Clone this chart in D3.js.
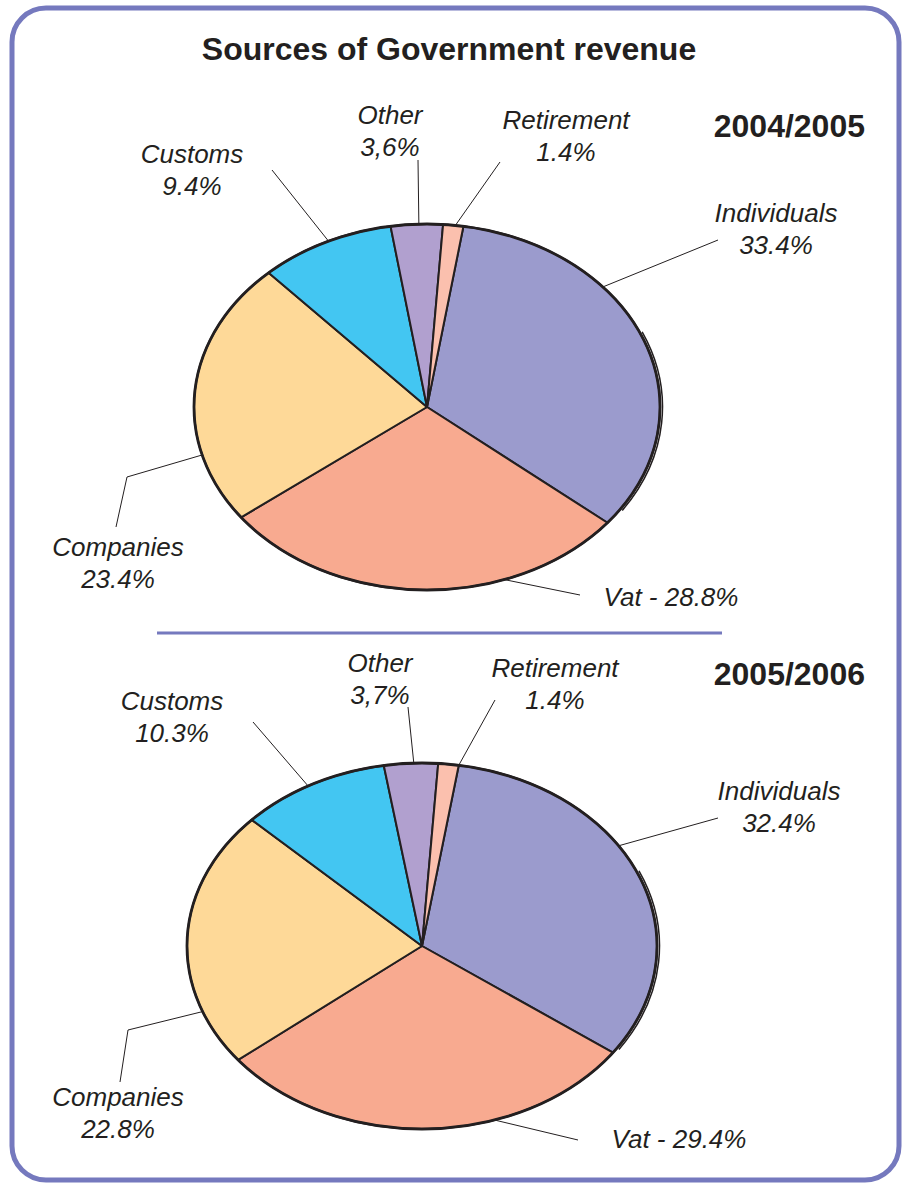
<!DOCTYPE html>
<html>
<head>
<meta charset="utf-8">
<script src="https://cdn.jsdelivr.net/npm/d3@7"></script>
<style>
  body { margin: 0; background: #fff; }
  svg { display: block; }
</style>
</head>
<body>
<svg id="chart"></svg>
<script>
// slice names, in drawing order (clockwise from the top)
var categories = ["Individuals", "Vat", "Companies", "Customs", "Other", "Retirement"];
var colors = ["#9b9bcd", "#f8aa90", "#fed998", "#43c6f2", "#b1a0cf", "#fbc0ae"];

// percentages per year
var values2004 = [33.4, 28.8, 23.4, 9.4, 3.6, 1.4];
var values2005 = [32.4, 29.4, 22.8, 10.3, 3.7, 1.4];

// label texts as printed
var labels2004 = [["Individuals", "33.4%"], ["Vat - 28.8%"], ["Companies", "23.4%"], ["Customs", "9.4%"], ["Other", "3,6%"], ["Retirement", "1.4%"]];
var labels2005 = [["Individuals", "32.4%"], ["Vat - 29.4%"], ["Companies", "22.8%"], ["Customs", "10.3%"], ["Other", "3,7%"], ["Retirement", "1.4%"]];

var years = ["2004/2005", "2005/2006"];
var title = "Sources of Government revenue";

var width = 906;
var height = 1183;
var ink = "#231f20";
var frameColor = "#7579be";

var svg = d3.select("#chart")
    .attr("width", width)
    .attr("height", height)
    .style("font-family", "'Liberation Sans', Arial, Helvetica, sans-serif");

// frame
svg.append("rect")
    .attr("x", 12).attr("y", 8)
    .attr("width", 887).attr("height", 1172)
    .attr("rx", 34).attr("ry", 34)
    .attr("fill", "none")
    .attr("stroke", frameColor)
    .attr("stroke-width", 5);

// separator
svg.append("line")
    .attr("x1", 157).attr("x2", 722)
    .attr("y1", 633).attr("y2", 633)
    .attr("stroke", frameColor)
    .attr("stroke-width", 3);

svg.append("text")
    .attr("x", 449).attr("y", 60)
    .attr("text-anchor", "middle")
    .style("font-weight", "bold")
    .style("font-size", "32px")
    .attr("fill", ink)
    .text(title);

// label layout: text position + anchor angle (deg) on the pie rim + optional elbow
var layout2004 = [
  {x: 776, y: 222, lx: 718, ly: 240, a: 49},
  {x: 671, y: 606, lx: 580, ly: 595, a: 160.6},
  {x: 118, y: 556, lx: 116, ly: 527, ex: 127, ey: 477, a: 254.8},
  {x: 192, y: 163, lx: 272, ly: 170, a: 335},
  {x: 390, y: 124, lx: 418, ly: 160, a: 358},
  {x: 566, y: 129, lx: 500, ly: 162, a: 7}
];
var layout2005 = [
  {x: 779, y: 800, lx: 718, ly: 818, a: 56.8},
  {x: 679, y: 1148, lx: 578, ly: 1140, a: 162},
  {x: 118, y: 1106, lx: 120, ly: 1082, ex: 128, ey: 1030, a: 249},
  {x: 172, y: 710, lx: 253, ly: 722, a: 331},
  {x: 380, y: 672, lx: 408, ly: 707, a: 358},
  {x: 555, y: 677, lx: 495, ly: 700, a: 9}
];

function drawPie(values, labels, layout, cx, cy, rx, ry, year, yearY) {
  var pie = d3.pie()
      .sort(null)
      .startAngle(9 * Math.PI / 180)
      .endAngle(9 * Math.PI / 180 + 2 * Math.PI);
  var arc = d3.arc().innerRadius(0).outerRadius(rx);
  var arcs = pie(values);

  var g = svg.append("g")
      .attr("transform", "translate(" + cx + "," + cy + ") scale(1," + (ry / rx) + ")");

  g.selectAll("path.slice")
    .data(arcs)
    .join("path")
      .attr("class", "slice")
      .attr("d", arc)
      .attr("fill", (d, i) => colors[i])
      .attr("stroke", ink)
      .attr("stroke-width", 2)
      .attr("stroke-linejoin", "round")
      .attr("vector-effect", "non-scaling-stroke");

  // slight rim on the right side
  var rim = d3.arc().innerRadius(rx + 2.5).outerRadius(rx + 2.5)
      .startAngle(66 * Math.PI / 180).endAngle(124 * Math.PI / 180);
  g.append("path")
      .attr("d", rim())
      .attr("fill", "none")
      .attr("stroke", ink)
      .attr("stroke-width", 1.5)
      .attr("vector-effect", "non-scaling-stroke");

  g.append("ellipse")
      .attr("rx", rx).attr("ry", rx)
      .attr("fill", "none")
      .attr("stroke", ink)
      .attr("stroke-width", 2.8)
      .attr("vector-effect", "non-scaling-stroke");

  // leader lines
  layout.forEach(function(p) {
    var t = p.a * Math.PI / 180;
    var ax = cx + rx * Math.sin(t);
    var ay = cy - ry * Math.cos(t);
    var pts = [[p.lx, p.ly]];
    if (p.ex !== undefined) pts.push([p.ex, p.ey]);
    pts.push([ax, ay]);
    svg.append("path")
        .attr("d", d3.line()(pts))
        .attr("fill", "none")
        .attr("stroke", ink)
        .attr("stroke-width", 1);
  });

  // labels
  layout.forEach(function(p, i) {
    var t = svg.append("text")
        .attr("x", p.x).attr("y", p.y)
        .attr("text-anchor", "middle")
        .style("font-style", "italic")
        .style("font-size", "26px")
        .attr("fill", ink);
    labels[i].forEach(function(line, k) {
      t.append("tspan")
          .attr("x", p.x)
          .attr("dy", k === 0 ? 0 : 32)
          .text(line);
    });
  });

  svg.append("text")
      .attr("x", 865).attr("y", yearY)
      .attr("text-anchor", "end")
      .style("font-weight", "bold")
      .style("font-size", "32px")
      .attr("fill", ink)
      .text(year);
}

drawPie(values2004, labels2004, layout2004, 427, 407, 233, 183, years[0], 137);
drawPie(values2005, labels2005, layout2005, 422, 946, 235, 183, years[1], 685);
</script>
</body>
</html>
